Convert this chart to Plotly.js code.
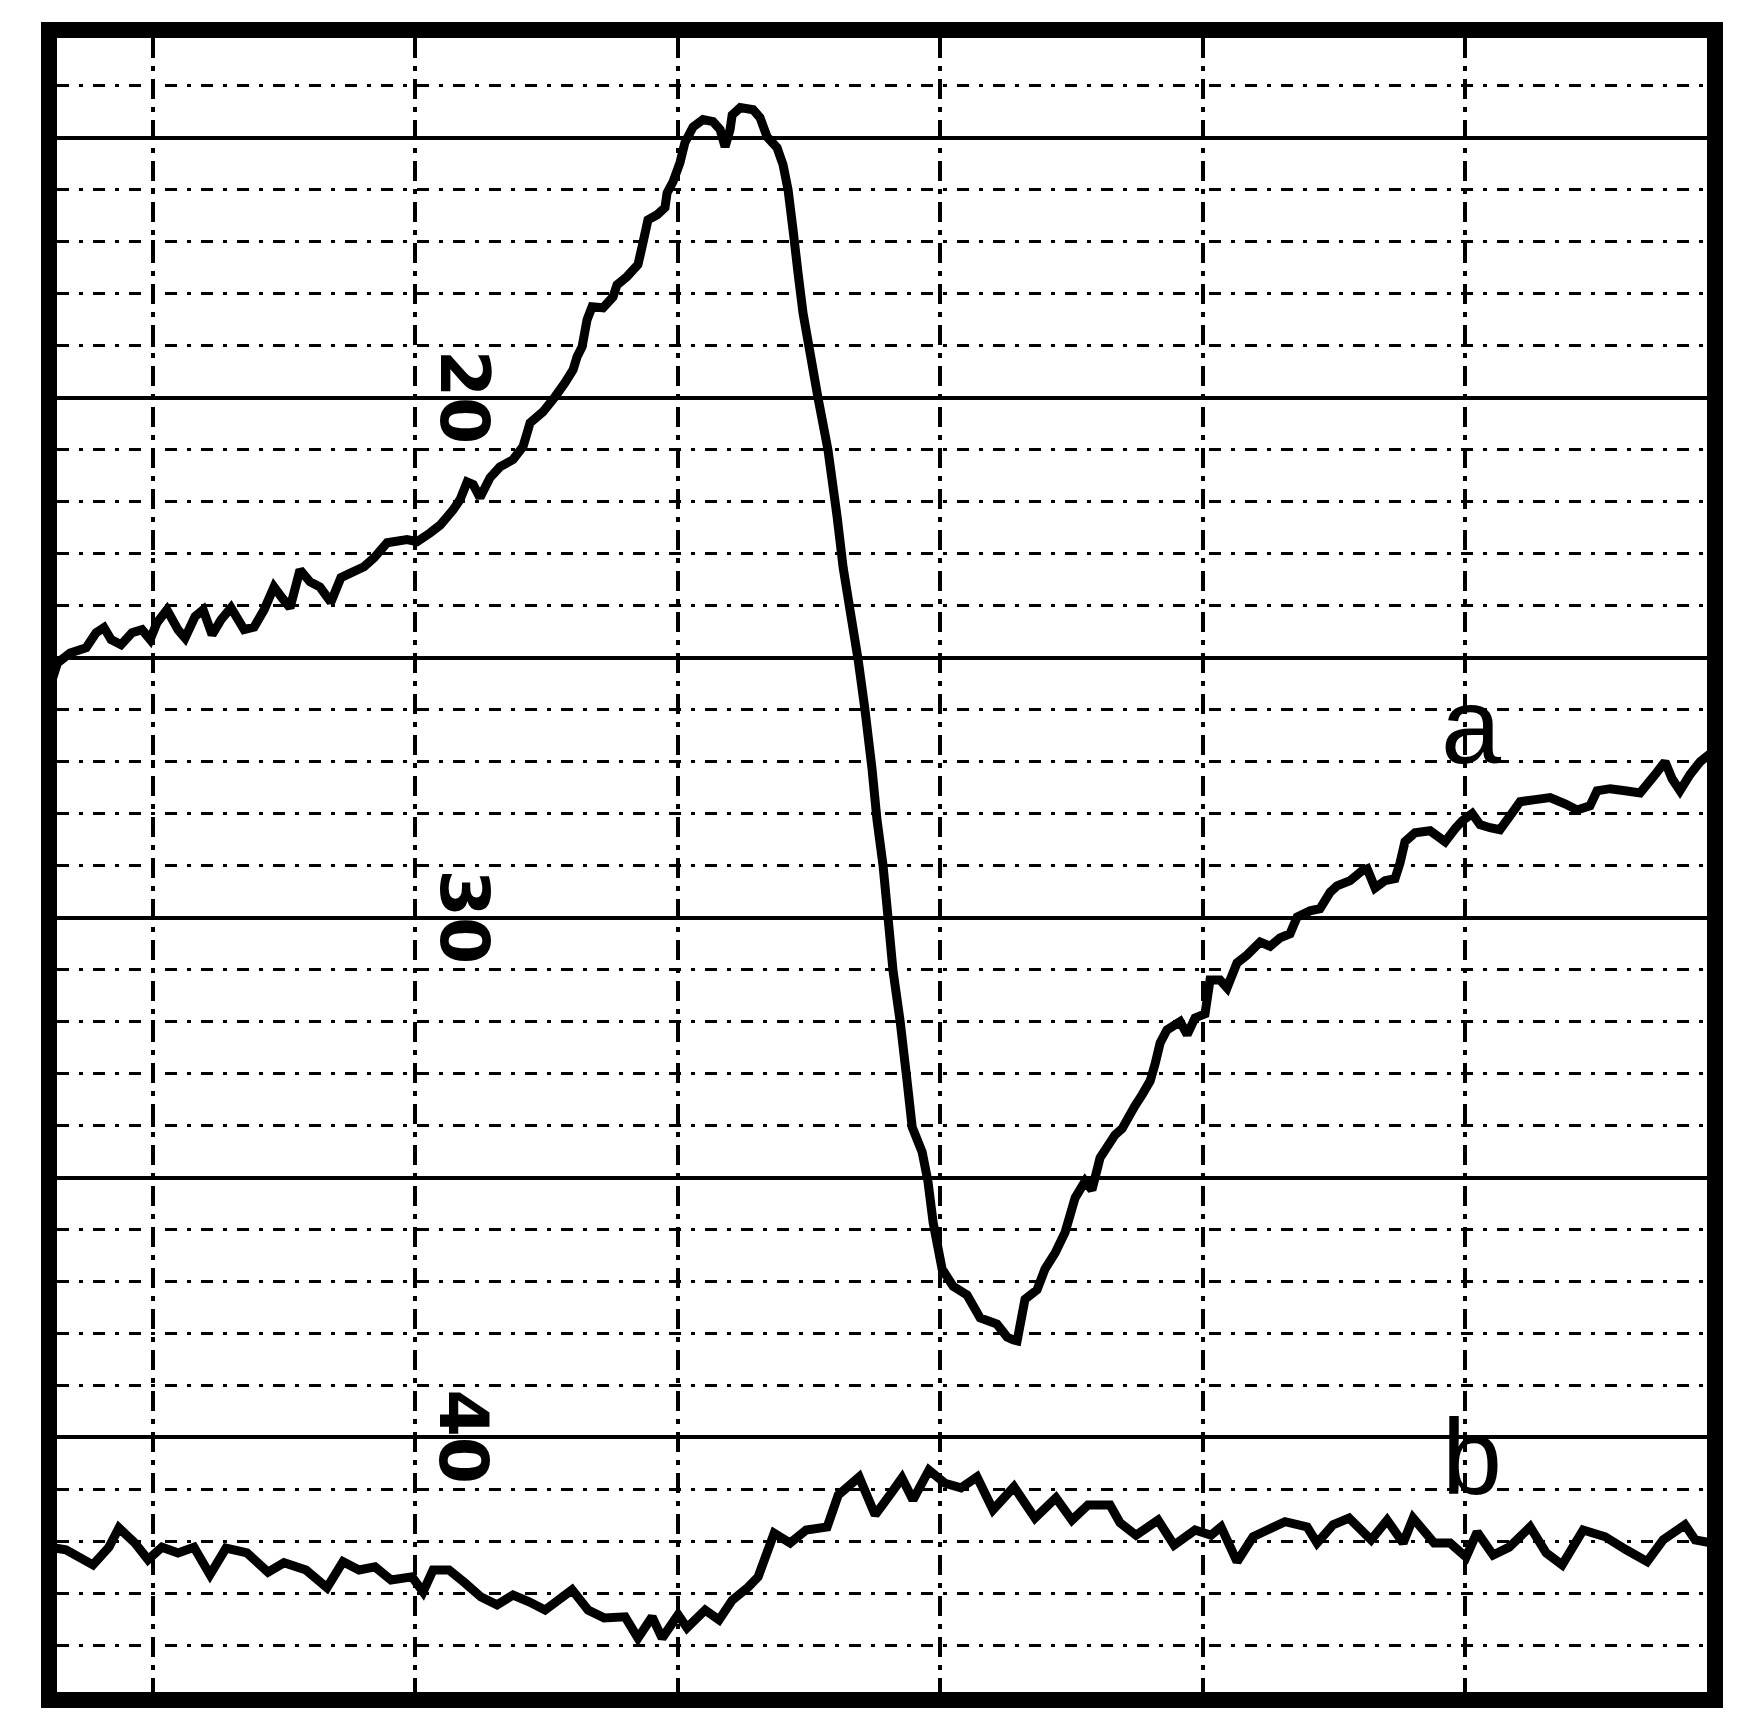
<!DOCTYPE html>
<html>
<head>
<meta charset="utf-8">
<script src="https://cdn.plot.ly/plotly-3.0.1.min.js"></script>
<style>html,body{margin:0;padding:0;background:#fff;}#chart{width:1746px;height:1732px;}</style>
</head>
<body>
<div id="chart"></div>
<script>
// Trace a (upper recorder trace): time in chart units, amplitude in minor divisions
const aTime = [-3.93,-3.64,-3.16,-2.55,-2.17,-1.87,-1.60,-1.22,-0.80,-0.42,-0.11,0.15,0.53,0.95,1.22,1.60,1.91,2.25,2.59,2.97,3.47,3.85,4.23,4.61,4.92,5.22,5.60,5.98,6.36,6.78,7.16,7.54,8.04,8.42,8.92,9.68,10.06,10.56,10.94,11.43,11.70,11.97,12.20,12.46,12.84,13.22,13.72,14.10,14.37,14.86,15.32,15.70,16.01,16.16,16.35,16.54,16.73,17.15,17.53,17.68,18.06,18.48,18.67,18.86,19.21,19.51,19.59,19.82,20.08,20.27,20.58,20.96,21.34,21.61,21.80,21.99,22.07,22.38,22.87,23.13,23.40,23.78,24.01,24.20,24.39,24.58,24.77,25.04,25.34,25.72,26.07,26.30,26.56,26.87,27.13,27.40,27.59,27.82,28.01,28.20,28.47,28.73,28.93,29.31,29.53,29.73,30.07,30.49,31.02,31.52,32.16,32.55,32.77,32.93,33.23,33.69,33.99,34.38,34.76,35.14,35.52,35.78,36.09,36.66,36.93,37.42,37.69,38.00,38.19,38.38,38.64,39.14,39.41,39.71,40.09,40.28,40.66,40.93,41.31,41.69,42.19,42.57,42.95,43.33,43.60,44.09,44.47,44.86,45.12,45.62,46.07,46.27,46.57,46.95,47.33,47.52,47.71,48.09,48.67,49.24,49.62,49.89,50.27,50.57,50.95,51.33,51.72,52.10,52.67,53.24,53.81,54.27,54.76,55.03,55.53,56.10,56.67,57.24,57.62,57.89,58.19,58.57,58.96,59.34];
const aValue = [19.44,19.90,20.09,20.19,20.48,20.58,20.35,20.25,20.48,20.54,20.35,20.67,20.92,20.54,20.38,20.79,20.92,20.44,20.73,20.96,20.54,20.59,20.92,21.36,21.15,20.96,21.69,21.46,21.36,21.07,21.54,21.63,21.75,21.92,22.21,22.27,22.23,22.40,22.55,22.84,23.04,23.38,23.33,23.08,23.46,23.67,23.81,24.06,24.52,24.73,25.02,25.29,25.54,25.79,25.98,26.50,26.75,26.73,26.94,27.17,27.33,27.56,27.98,28.42,28.52,28.66,28.94,29.16,29.52,29.91,30.21,30.35,30.31,30.16,29.83,30.16,30.44,30.58,30.54,30.39,30.02,29.81,29.48,29.00,28.23,27.40,26.63,25.86,25.00,24.00,22.71,21.73,20.92,19.96,19.00,17.86,16.88,16.00,15.00,13.98,13.01,11.88,10.97,10.49,9.93,9.13,8.24,7.91,7.74,7.30,7.18,6.93,6.88,6.86,7.66,7.84,8.24,8.55,8.95,9.61,9.93,9.76,10.38,10.82,10.94,11.38,11.59,11.86,12.19,12.59,12.84,13.00,12.75,13.07,13.15,13.80,13.80,13.65,14.13,14.28,14.53,14.45,14.61,14.69,15.01,15.13,15.17,15.49,15.61,15.71,15.90,15.94,15.57,15.71,15.75,16.05,16.46,16.63,16.67,16.46,16.71,16.86,17.00,16.79,16.73,16.69,16.96,17.23,17.27,17.31,17.19,17.07,17.15,17.44,17.48,17.44,17.40,17.75,18.00,17.67,17.44,17.75,18.00,18.15];

// Trace b (lower recorder trace)
const bTime = [-3.93,-3.32,-2.29,-1.68,-1.30,-0.69,-0.19,0.34,0.95,1.56,2.17,2.78,3.58,4.38,4.99,5.83,6.63,7.24,7.85,8.46,9.07,9.87,10.29,10.67,11.28,11.89,12.50,13.11,13.72,14.33,14.94,15.97,16.58,17.19,17.99,18.48,19.02,19.40,20.01,20.35,21.04,21.57,22.07,22.68,23.06,23.67,24.28,24.89,25.69,26.11,26.91,27.52,28.13,28.54,28.96,29.57,30.18,30.79,31.40,32.01,32.81,33.61,34.41,35.02,35.63,36.47,36.85,37.46,38.30,38.91,39.71,40.32,40.70,41.31,41.92,43.14,43.98,44.36,44.97,45.58,46.42,47.03,47.64,48.02,48.82,49.43,50.04,50.46,51.07,51.68,52.48,53.09,53.70,54.50,55.34,56.14,56.94,57.55,58.38,58.77,59.38];
const bValue = [2.89,2.84,2.55,2.89,3.26,2.97,2.65,2.89,2.78,2.89,2.36,2.87,2.78,2.41,2.59,2.45,2.11,2.61,2.45,2.51,2.26,2.32,2.03,2.45,2.45,2.20,1.93,1.78,1.97,1.84,1.68,2.07,1.68,1.53,1.55,1.14,1.55,1.14,1.59,1.34,1.68,1.49,1.87,2.12,2.32,3.16,2.97,3.22,3.28,3.89,4.24,3.51,3.93,4.22,3.80,4.37,4.12,4.03,4.24,3.61,4.05,3.45,3.84,3.41,3.70,3.70,3.36,3.12,3.41,2.93,3.22,3.12,3.28,2.61,3.09,3.38,3.28,2.97,3.32,3.45,3.03,3.41,2.97,3.45,2.97,2.97,2.70,3.18,2.74,2.89,3.28,2.78,2.55,3.22,3.09,2.84,2.61,3.03,3.32,3.03,2.97];

// Chart-paper labels (written rotated on the paper)
const scaleLabels = ["20", "30", "40"];
const scaleLabelLevels = [25, 15, 5];
const scaleLabelTime = 11.85;
const traceNames = ["a", "b"];
const traceNameTime = [50.25, 50.25];
const traceNameLevel = [18.69, 4.64];

const data = [
  {x: aTime, y: aValue, type: 'scatter', mode: 'lines', name: traceNames[0],
   line: {color: '#000', width: 9, shape: 'linear', simplify: false}, hoverinfo: 'skip'},
  {x: bTime, y: bValue, type: 'scatter', mode: 'lines', name: traceNames[1],
   line: {color: '#000', width: 9, shape: 'linear', simplify: false}, hoverinfo: 'skip'}
];

const annotations = [];
scaleLabels.forEach((t, i) => {
  annotations.push({x: scaleLabelTime, y: scaleLabelLevels[i], xref: 'x', yref: 'y', text: t,
    showarrow: false, textangle: 90, xanchor: 'center', yanchor: 'middle',
    font: {family: 'DejaVu Sans', size: 68, color: '#000', weight: 'bold'}});
});
traceNames.forEach((t, i) => {
  annotations.push({x: traceNameTime[i], y: traceNameLevel[i], xref: 'x', yref: 'y', text: t,
    showarrow: false, xanchor: 'center', yanchor: 'middle',
    font: {family: 'Liberation Sans', size: 108, color: '#000'}});
});

const layout = {
  width: 1746, height: 1732,
  margin: {l: 57, r: 39, t: 38, b: 40, pad: 0},
  paper_bgcolor: '#fff', plot_bgcolor: '#fff',
  showlegend: false,
  xaxis: {
    range: [-3.66, 59.22], tick0: 0, dtick: 10,
    showgrid: true, gridcolor: '#000', gridwidth: 4, griddash: '20px,8px,5px,8px',
    zeroline: false, showticklabels: false, ticks: '',
    showline: true, linecolor: '#000', linewidth: 16, mirror: true
  },
  yaxis: {
    range: [0.104, 31.92], tick0: 0, dtick: 5,
    showgrid: true, gridcolor: '#000', gridwidth: 4,
    minor: {tick0: 0, dtick: 1, showgrid: true, gridcolor: '#000', gridwidth: 3, griddash: '12px,10px,4px,10px'},
    zeroline: false, showticklabels: false, ticks: '',
    showline: true, linecolor: '#000', linewidth: 16, mirror: true
  },
  annotations: annotations
};

Plotly.newPlot('chart', data, layout, {staticPlot: true, displayModeBar: false});
</script>
</body>
</html>
